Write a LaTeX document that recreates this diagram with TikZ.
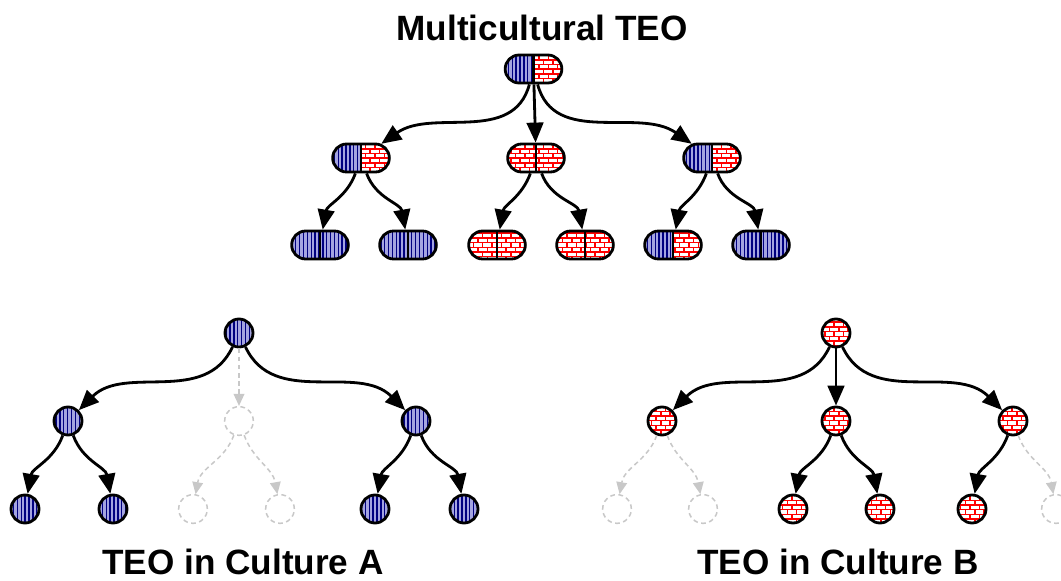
\documentclass[tikz,border=0pt]{standalone}
\usepackage{fontspec}
\setmainfont{Liberation Sans}
\usetikzlibrary{arrows.meta,patterns,shapes.misc}
\definecolor{navyc}{HTML}{000080}
\definecolor{lavc}{HTML}{A4A4E0}
\definecolor{brickc}{HTML}{FF0000}
\definecolor{ghostc}{HTML}{C8C8C8}
\pgfdeclarepatternformonly{navylines}{\pgfqpoint{0pt}{-1pt}}{\pgfqpoint{3.3pt}{9pt}}{\pgfqpoint{3.3pt}{8pt}}{%
  \pgfsetlinewidth{1.2pt}%
  \pgfpathmoveto{\pgfqpoint{1.65pt}{-1pt}}\pgfpathlineto{\pgfqpoint{1.65pt}{9pt}}%
  \pgfusepath{stroke}}
\pgfdeclarepatternformonly{redbricks}{\pgfqpoint{-1pt}{-1pt}}{\pgfqpoint{9pt}{9pt}}{\pgfqpoint{8pt}{8pt}}{%
  \pgfsetlinewidth{1.3pt}%
  \pgfpathmoveto{\pgfqpoint{-1pt}{0pt}}\pgfpathlineto{\pgfqpoint{9pt}{0pt}}%
  \pgfpathmoveto{\pgfqpoint{-1pt}{4pt}}\pgfpathlineto{\pgfqpoint{9pt}{4pt}}%
  \pgfpathmoveto{\pgfqpoint{0pt}{0pt}}\pgfpathlineto{\pgfqpoint{0pt}{4pt}}%
  \pgfpathmoveto{\pgfqpoint{4pt}{4pt}}\pgfpathlineto{\pgfqpoint{4pt}{8pt}}%
  \pgfusepath{stroke}}
\tikzset{
  bluepat/.style={preaction={fill=lavc},pattern=navylines,pattern color=navyc},
  redpat/.style={preaction={fill=white},pattern=redbricks,pattern color=brickc},
  lpat/.style={},
  rpat/.style={},
  pill/.style={rounded rectangle,draw,line width=2.4pt,minimum width=1.7cm,minimum height=0.84cm,inner sep=0pt,
    path picture={
      \path[lpat] (path picture bounding box.south west) rectangle (path picture bounding box.north);
      \path[rpat] (path picture bounding box.south) rectangle (path picture bounding box.north east);
      \draw[line width=2.2pt] (path picture bounding box.south) -- (path picture bounding box.north);}},
  bb/.style={pill,lpat/.style=bluepat,rpat/.style=bluepat},
  br/.style={pill,lpat/.style=bluepat,rpat/.style=redpat},
  rr/.style={pill,lpat/.style=redpat,rpat/.style=redpat},
  ball/.style={circle,draw,line width=2.4pt,minimum size=0.84cm,inner sep=0pt,#1},
  ghost/.style={circle,draw=ghostc,dash pattern=on 4pt off 3pt,line width=1.3pt,minimum size=0.86cm,inner sep=0pt},
  ar/.style={-{Triangle[length=6mm,width=5mm]},line width=2.4pt},
  gar/.style={-{Triangle[length=3.6mm,width=3.2mm]},line width=1.3pt,ghostc,dash pattern=on 4pt off 3pt},
  title/.style={font=\fontsize{30}{36}\selectfont\bfseries,inner sep=0pt}
}
\begin{document}
\begin{tikzpicture}[x=0.03cm,y=0.03cm]
\useasboundingbox (0,0) rectangle (1061,580);
\node[title] (mt) at (542,552) {Multicultural TEO};
\node[br] (m) at (533.5,511) {};
\node[br] (m1) at (361,422) {};
\node[rr] (m2) at (536,422) {};
\node[br] (m3) at (712,422) {};
\node[bb] (m11) at (320,335) {};
\node[bb] (m12) at (408,335) {};
\node[rr] (m21) at (497,335) {};
\node[rr] (m22) at (585,335) {};
\node[br] (m31) at (673,335) {};
\node[bb] (m32) at (761,335) {};
\draw[ar] (m) to[out=-105,in=35] (m1);
\draw[ar] (m) -- (m2);
\draw[ar] (m) to[out=-75,in=145] (m3);
\foreach \p/\l/\r in {m1/m11/m12,m2/m21/m22,m3/m31/m32}{
  \draw[ar] (\p) to[out=-110,in=80] (\l);
  \draw[ar] (\p) to[out=-70,in=100] (\r);
}
% culture A
\node[ball=bluepat] (a) at (239,247) {};
\node[ball=bluepat] (a1) at (68,159) {};
\node[ghost] (a2) at (239,159) {};
\node[ball=bluepat] (a3) at (416,159) {};
\node[ball=bluepat] (a11) at (25,71) {};
\node[ball=bluepat] (a12) at (113,71) {};
\node[ghost] (a21) at (193,71) {};
\node[ghost] (a22) at (280,71) {};
\node[ball=bluepat] (a31) at (375,71) {};
\node[ball=bluepat] (a32) at (464,71) {};
\draw[ar] (a) to[out=-115,in=45] (a1);
\draw[gar] (a) -- (a2);
\draw[ar] (a) to[out=-65,in=135] (a3);
\draw[ar] (a1) to[out=-110,in=80] (a11);
\draw[ar] (a1) to[out=-70,in=100] (a12);
\draw[gar] (a2) to[out=-110,in=80] (a21);
\draw[gar] (a2) to[out=-70,in=100] (a22);
\draw[ar] (a3) to[out=-110,in=80] (a31);
\draw[ar] (a3) to[out=-70,in=100] (a32);
\node[title] (la) at (243,18) {TEO in Culture A};
% culture B
\node[ball=redpat] (b) at (836,247) {};
\node[ball=redpat] (b1) at (662,159) {};
\node[ball=redpat] (b2) at (836,159) {};
\node[ball=redpat] (b3) at (1013,159) {};
\node[ghost] (b11) at (617,71) {};
\node[ghost] (b12) at (703,71) {};
\node[ball=redpat] (b21) at (793,71) {};
\node[ball=redpat] (b22) at (880,71) {};
\node[ball=redpat] (b31) at (972,71) {};
\node[ghost] (b32) at (1056,71) {};
\draw[ar] (b) to[out=-115,in=45] (b1);
\draw[ar] (b) -- (b2);
\draw[ar] (b) to[out=-65,in=135] (b3);
\draw[gar] (b1) to[out=-110,in=80] (b11);
\draw[gar] (b1) to[out=-70,in=100] (b12);
\draw[ar] (b2) to[out=-110,in=80] (b21);
\draw[ar] (b2) to[out=-70,in=100] (b22);
\draw[ar] (b3) to[out=-110,in=80] (b31);
\draw[gar] (b3) to[out=-70,in=100] (b32);
\node[title] (lb) at (838,18) {TEO in Culture B};
\end{tikzpicture}
\end{document}
